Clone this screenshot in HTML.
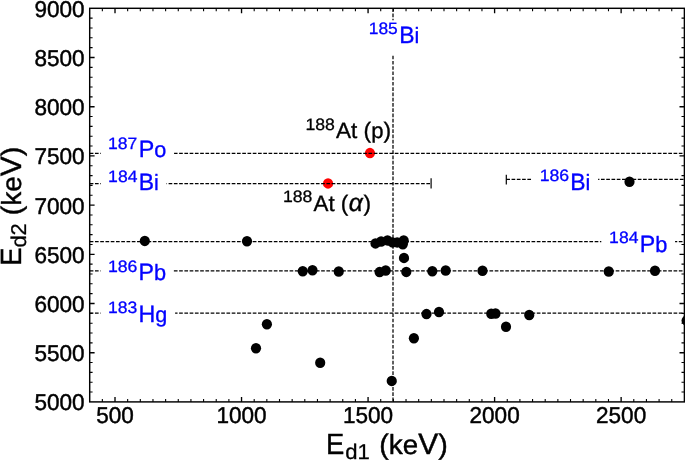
<!DOCTYPE html>
<html><head><meta charset="utf-8"><title>chart</title>
<style>html,body{margin:0;padding:0;background:#fff;}svg{display:block;}text{font-family:"Liberation Sans",sans-serif;stroke-linejoin:round;text-rendering:geometricPrecision;}</style>
</head><body>
<svg width="685" height="460" viewBox="0 0 685 460">
<rect x="0" y="0" width="685" height="460" fill="#fff"/>
<g opacity="0.999">
<g id="red" fill="#ff0000">
<ellipse cx="369.95" cy="153.1" rx="5.1" ry="5.25"/>
<ellipse cx="328.05" cy="183.4" rx="5.1" ry="5.25"/>
</g>
<g id="lines">
<path d="M89.70 153.25H100.90" stroke="#000" stroke-width="1.25" stroke-dasharray="3.68 1.58" fill="none" stroke-dashoffset="0.00"/>
<path d="M174.07 153.25H684.40" stroke="#000" stroke-width="1.25" stroke-dasharray="3.68 1.58" fill="none" stroke-dashoffset="0.21"/>
<path d="M89.70 183.50H100.90" stroke="#000" stroke-width="1.25" stroke-dasharray="3.68 1.58" fill="none" stroke-dashoffset="0.00"/>
<path d="M166.54 183.50H431.10" stroke="#000" stroke-width="1.25" stroke-dasharray="3.68 1.58" fill="none" stroke-dashoffset="3.20"/>
<path d="M506.30 179.25H531.90" stroke="#000" stroke-width="1.25" stroke-dasharray="3.68 1.58" fill="none" stroke-dashoffset="0.00"/>
<path d="M598.14 179.25H684.40" stroke="#000" stroke-width="1.25" stroke-dasharray="3.68 1.58" fill="none" stroke-dashoffset="2.42"/>
<path d="M89.70 241.70H601.30" stroke="#000" stroke-width="1.25" stroke-dasharray="3.68 1.58" fill="none" stroke-dashoffset="0.00"/>
<path d="M675.07 241.70H684.40" stroke="#000" stroke-width="1.25" stroke-dasharray="3.68 1.58" fill="none" stroke-dashoffset="1.51"/>
<path d="M89.70 270.75H100.70" stroke="#000" stroke-width="1.25" stroke-dasharray="3.68 1.58" fill="none" stroke-dashoffset="0.00"/>
<path d="M173.87 270.75H684.40" stroke="#000" stroke-width="1.25" stroke-dasharray="3.68 1.58" fill="none" stroke-dashoffset="0.01"/>
<path d="M89.70 313.00H100.70" stroke="#000" stroke-width="1.25" stroke-dasharray="3.68 1.58" fill="none" stroke-dashoffset="0.00"/>
<path d="M175.11 313.00H684.40" stroke="#000" stroke-width="1.25" stroke-dasharray="3.68 1.58" fill="none" stroke-dashoffset="1.25"/>
<path d="M393.00 8.30V20.30" stroke="#000" stroke-width="1.25" stroke-dasharray="3.68 1.58" fill="none" stroke-dashoffset="0.00"/>
<path d="M393.00 54.90V401.90" stroke="#000" stroke-width="1.25" stroke-dasharray="3.68 1.58" fill="none" stroke-dashoffset="4.52"/>
<path d="M431.1 178.3V188.5M506.3 174.7V184.6" stroke="#000" stroke-width="1.2" fill="none"/>
</g>
<g id="labels">
<text transform="translate(108.10,148.75) scale(1.0669,1)" font-size="16.45" fill="#0000ff" stroke="#0000ff" stroke-width="0.3">187</text>
<text transform="translate(138.70,157.10) scale(0.9866,1)" font-size="22.7" fill="#0000ff" stroke="#0000ff" stroke-width="0.35"><tspan font-size="23.63">P</tspan><tspan font-size="21.91">o</tspan></text>
<text transform="translate(108.09,181.80) scale(1.0706,1)" font-size="16.45" fill="#0000ff" stroke="#0000ff" stroke-width="0.3">184</text>
<text transform="translate(138.70,190.15) scale(0.9685,1)" font-size="22.7" fill="#0000ff" stroke="#0000ff" stroke-width="0.35"><tspan font-size="23.63">B</tspan><tspan font-size="22.20">i</tspan></text>
<text transform="translate(107.89,271.95) scale(1.0765,1)" font-size="16.45" fill="#0000ff" stroke="#0000ff" stroke-width="0.3">186</text>
<text transform="translate(138.50,280.30) scale(0.9809,1)" font-size="22.7" fill="#0000ff" stroke="#0000ff" stroke-width="0.35"><tspan font-size="23.63">P</tspan><tspan font-size="22.20">b</tspan></text>
<text transform="translate(107.90,313.25) scale(1.0659,1)" font-size="16.45" fill="#0000ff" stroke="#0000ff" stroke-width="0.3">183</text>
<text transform="translate(138.50,321.60) scale(0.9852,1)" font-size="22.7" fill="#0000ff" stroke="#0000ff" stroke-width="0.35"><tspan font-size="23.63">H</tspan><tspan font-size="21.91">g</tspan></text>
<text transform="translate(539.69,181.35) scale(1.0765,1)" font-size="16.45" fill="#0000ff" stroke="#0000ff" stroke-width="0.3">186</text>
<text transform="translate(570.30,189.70) scale(0.9685,1)" font-size="22.7" fill="#0000ff" stroke="#0000ff" stroke-width="0.35"><tspan font-size="23.63">B</tspan><tspan font-size="22.20">i</tspan></text>
<text transform="translate(609.09,243.45) scale(1.0706,1)" font-size="16.45" fill="#0000ff" stroke="#0000ff" stroke-width="0.3">184</text>
<text transform="translate(639.70,251.80) scale(0.9809,1)" font-size="22.7" fill="#0000ff" stroke="#0000ff" stroke-width="0.35"><tspan font-size="23.63">P</tspan><tspan font-size="22.20">b</tspan></text>
<text transform="translate(368.71,34.35) scale(1.0600,1)" font-size="16.45" fill="#0000ff" stroke="#0000ff" stroke-width="0.3">185</text>
<text transform="translate(399.30,42.70) scale(0.9685,1)" font-size="22.7" fill="#0000ff" stroke="#0000ff" stroke-width="0.35"><tspan font-size="23.63">B</tspan><tspan font-size="22.20">i</tspan></text>
</g>
<clipPath id="ax"><rect x="89.70" y="8.30" width="594.70" height="393.60"/></clipPath>
<g id="pts" fill="#000" clip-path="url(#ax)">
<ellipse cx="144.8" cy="240.9" rx="5.1" ry="5.25"/>
<ellipse cx="247" cy="241.3" rx="5.1" ry="5.25"/>
<ellipse cx="375.5" cy="243.4" rx="5.1" ry="5.25"/>
<ellipse cx="381.1" cy="241.5" rx="5.1" ry="5.25"/>
<ellipse cx="387.5" cy="240.4" rx="5.1" ry="5.25"/>
<ellipse cx="392.5" cy="242.4" rx="5.1" ry="5.25"/>
<ellipse cx="397.2" cy="242.4" rx="5.1" ry="5.25"/>
<ellipse cx="403.7" cy="240.5" rx="5.1" ry="5.25"/>
<ellipse cx="402.8" cy="244.2" rx="5.1" ry="5.25"/>
<ellipse cx="404" cy="257.9" rx="5.1" ry="5.25"/>
<ellipse cx="302.75" cy="271.25" rx="5.1" ry="5.25"/>
<ellipse cx="312.5" cy="270.25" rx="5.1" ry="5.25"/>
<ellipse cx="338.75" cy="271.5" rx="5.1" ry="5.25"/>
<ellipse cx="379.6" cy="272.1" rx="5.1" ry="5.25"/>
<ellipse cx="385.7" cy="270.5" rx="5.1" ry="5.25"/>
<ellipse cx="406.3" cy="271.9" rx="5.1" ry="5.25"/>
<ellipse cx="432.3" cy="271.2" rx="5.1" ry="5.25"/>
<ellipse cx="445.7" cy="270.5" rx="5.1" ry="5.25"/>
<ellipse cx="482.5" cy="270.75" rx="5.1" ry="5.25"/>
<ellipse cx="608.75" cy="271.5" rx="5.1" ry="5.25"/>
<ellipse cx="655" cy="270.75" rx="5.1" ry="5.25"/>
<ellipse cx="426.5" cy="314.1" rx="5.1" ry="5.25"/>
<ellipse cx="439" cy="312" rx="5.1" ry="5.25"/>
<ellipse cx="491.25" cy="313.75" rx="5.1" ry="5.25"/>
<ellipse cx="495.5" cy="313.5" rx="5.1" ry="5.25"/>
<ellipse cx="529.25" cy="315" rx="5.1" ry="5.25"/>
<ellipse cx="506" cy="326.75" rx="5.1" ry="5.25"/>
<ellipse cx="413.9" cy="338.3" rx="5.1" ry="5.25"/>
<ellipse cx="266.9" cy="324.2" rx="5.1" ry="5.25"/>
<ellipse cx="256.0" cy="348.2" rx="5.1" ry="5.25"/>
<ellipse cx="320.2" cy="362.8" rx="5.1" ry="5.25"/>
<ellipse cx="391.75" cy="380.9" rx="5.1" ry="5.25"/>
<ellipse cx="629.5" cy="181.75" rx="5.1" ry="5.25"/>
<ellipse cx="686.6" cy="320.6" rx="5.1" ry="5.25"/>
</g>
<g id="blabels">
<text transform="translate(305.39,129.90) scale(1.0728,1)" font-size="16.45" fill="#000" stroke="#000" stroke-width="0.3">188</text>
<text transform="translate(336.00,138.25) scale(1.0137,1)" font-size="22.6" fill="#000" stroke="#000" stroke-width="0.35"><tspan font-size="22.26">At </tspan>(<tspan font-size="21.81">p</tspan>)</text>
<text transform="translate(282.89,202.30) scale(1.0728,1)" font-size="16.45" fill="#000" stroke="#000" stroke-width="0.3">188</text>
<text transform="translate(313.50,210.80) scale(1.0052,1)" font-size="22.6" fill="#000" stroke="#000" stroke-width="0.35"><tspan font-size="22.26">At </tspan>(<tspan font-size="24.63" font-style="italic" dx="0.43">α</tspan><tspan font-size="22.60" dx="0.43">)</tspan></text>
</g>
<g id="frame" stroke="#000" fill="none">
<rect x="89.7" y="8.3" width="594.70" height="393.60" stroke-width="1.45"/>
<path d="M115.01 401.9v-4.9M115.01 8.3v4.9M241.54 401.9v-4.9M241.54 8.3v4.9M368.07 401.9v-4.9M368.07 8.3v4.9M494.60 401.9v-4.9M494.60 8.3v4.9M621.13 401.9v-4.9M621.13 8.3v4.9M89.7 352.70h4.9M684.4 352.70h-4.9M89.7 303.50h4.9M684.4 303.50h-4.9M89.7 254.30h4.9M684.4 254.30h-4.9M89.7 205.10h4.9M684.4 205.10h-4.9M89.7 155.90h4.9M684.4 155.90h-4.9M89.7 106.70h4.9M684.4 106.70h-4.9M89.7 57.50h4.9M684.4 57.50h-4.9" stroke-width="1.35"/>
<path d="M102.35 401.9v-2.9M102.35 8.3v2.9M127.66 401.9v-2.9M127.66 8.3v2.9M140.31 401.9v-2.9M140.31 8.3v2.9M152.97 401.9v-2.9M152.97 8.3v2.9M165.62 401.9v-2.9M165.62 8.3v2.9M178.27 401.9v-2.9M178.27 8.3v2.9M190.93 401.9v-2.9M190.93 8.3v2.9M203.58 401.9v-2.9M203.58 8.3v2.9M216.23 401.9v-2.9M216.23 8.3v2.9M228.89 401.9v-2.9M228.89 8.3v2.9M254.19 401.9v-2.9M254.19 8.3v2.9M266.84 401.9v-2.9M266.84 8.3v2.9M279.50 401.9v-2.9M279.50 8.3v2.9M292.15 401.9v-2.9M292.15 8.3v2.9M304.80 401.9v-2.9M304.80 8.3v2.9M317.46 401.9v-2.9M317.46 8.3v2.9M330.11 401.9v-2.9M330.11 8.3v2.9M342.76 401.9v-2.9M342.76 8.3v2.9M355.42 401.9v-2.9M355.42 8.3v2.9M380.72 401.9v-2.9M380.72 8.3v2.9M393.38 401.9v-2.9M393.38 8.3v2.9M406.03 401.9v-2.9M406.03 8.3v2.9M418.68 401.9v-2.9M418.68 8.3v2.9M431.34 401.9v-2.9M431.34 8.3v2.9M443.99 401.9v-2.9M443.99 8.3v2.9M456.64 401.9v-2.9M456.64 8.3v2.9M469.30 401.9v-2.9M469.30 8.3v2.9M481.95 401.9v-2.9M481.95 8.3v2.9M507.26 401.9v-2.9M507.26 8.3v2.9M519.91 401.9v-2.9M519.91 8.3v2.9M532.56 401.9v-2.9M532.56 8.3v2.9M545.21 401.9v-2.9M545.21 8.3v2.9M557.87 401.9v-2.9M557.87 8.3v2.9M570.52 401.9v-2.9M570.52 8.3v2.9M583.17 401.9v-2.9M583.17 8.3v2.9M595.83 401.9v-2.9M595.83 8.3v2.9M608.48 401.9v-2.9M608.48 8.3v2.9M633.79 401.9v-2.9M633.79 8.3v2.9M646.44 401.9v-2.9M646.44 8.3v2.9M659.09 401.9v-2.9M659.09 8.3v2.9M671.75 401.9v-2.9M671.75 8.3v2.9M89.7 392.06h2.9M684.4 392.06h-2.9M89.7 382.22h2.9M684.4 382.22h-2.9M89.7 372.38h2.9M684.4 372.38h-2.9M89.7 362.54h2.9M684.4 362.54h-2.9M89.7 342.86h2.9M684.4 342.86h-2.9M89.7 333.02h2.9M684.4 333.02h-2.9M89.7 323.18h2.9M684.4 323.18h-2.9M89.7 313.34h2.9M684.4 313.34h-2.9M89.7 293.66h2.9M684.4 293.66h-2.9M89.7 283.82h2.9M684.4 283.82h-2.9M89.7 273.98h2.9M684.4 273.98h-2.9M89.7 264.14h2.9M684.4 264.14h-2.9M89.7 244.46h2.9M684.4 244.46h-2.9M89.7 234.62h2.9M684.4 234.62h-2.9M89.7 224.78h2.9M684.4 224.78h-2.9M89.7 214.94h2.9M684.4 214.94h-2.9M89.7 195.26h2.9M684.4 195.26h-2.9M89.7 185.42h2.9M684.4 185.42h-2.9M89.7 175.58h2.9M684.4 175.58h-2.9M89.7 165.74h2.9M684.4 165.74h-2.9M89.7 146.06h2.9M684.4 146.06h-2.9M89.7 136.22h2.9M684.4 136.22h-2.9M89.7 126.38h2.9M684.4 126.38h-2.9M89.7 116.54h2.9M684.4 116.54h-2.9M89.7 96.86h2.9M684.4 96.86h-2.9M89.7 87.02h2.9M684.4 87.02h-2.9M89.7 77.18h2.9M684.4 77.18h-2.9M89.7 67.34h2.9M684.4 67.34h-2.9M89.7 47.66h2.9M684.4 47.66h-2.9M89.7 37.82h2.9M684.4 37.82h-2.9M89.7 27.98h2.9M684.4 27.98h-2.9M89.7 18.14h2.9M684.4 18.14h-2.9" stroke-width="1.1"/>
</g>
<g id="ticklabels">
<text transform="translate(115.01,423.00) scale(0.985,1)" font-size="22.9" fill="#000" stroke="#000" stroke-width="0.45" text-anchor="middle">500</text>
<text transform="translate(241.54,423.00) scale(0.985,1)" font-size="22.9" fill="#000" stroke="#000" stroke-width="0.45" text-anchor="middle">1000</text>
<text transform="translate(368.07,423.00) scale(0.985,1)" font-size="22.9" fill="#000" stroke="#000" stroke-width="0.45" text-anchor="middle">1500</text>
<text transform="translate(494.60,423.00) scale(0.985,1)" font-size="22.9" fill="#000" stroke="#000" stroke-width="0.45" text-anchor="middle">2000</text>
<text transform="translate(621.13,423.00) scale(0.985,1)" font-size="22.9" fill="#000" stroke="#000" stroke-width="0.45" text-anchor="middle">2500</text>
<text transform="translate(84.60,410.45) scale(0.985,1)" font-size="22.9" fill="#000" stroke="#000" stroke-width="0.45" text-anchor="end">5000</text>
<text transform="translate(84.60,361.25) scale(0.985,1)" font-size="22.9" fill="#000" stroke="#000" stroke-width="0.45" text-anchor="end">5500</text>
<text transform="translate(84.60,312.05) scale(0.985,1)" font-size="22.9" fill="#000" stroke="#000" stroke-width="0.45" text-anchor="end">6000</text>
<text transform="translate(84.60,262.85) scale(0.985,1)" font-size="22.9" fill="#000" stroke="#000" stroke-width="0.45" text-anchor="end">6500</text>
<text transform="translate(84.60,213.65) scale(0.985,1)" font-size="22.9" fill="#000" stroke="#000" stroke-width="0.45" text-anchor="end">7000</text>
<text transform="translate(84.60,164.45) scale(0.985,1)" font-size="22.9" fill="#000" stroke="#000" stroke-width="0.45" text-anchor="end">7500</text>
<text transform="translate(84.60,115.25) scale(0.985,1)" font-size="22.9" fill="#000" stroke="#000" stroke-width="0.45" text-anchor="end">8000</text>
<text transform="translate(84.60,66.05) scale(0.985,1)" font-size="22.9" fill="#000" stroke="#000" stroke-width="0.45" text-anchor="end">8500</text>
<text transform="translate(84.60,16.85) scale(0.985,1)" font-size="22.9" fill="#000" stroke="#000" stroke-width="0.45" text-anchor="end">9000</text>
</g>
<g id="axlabels">
<g>
<text transform="translate(326.10,453.50) scale(0.9385,1)" font-size="28.1" fill="#000" stroke="#000" stroke-width="0.4"><tspan font-size="29.25">E</tspan></text>
<text transform="translate(345.28,458.70) scale(1.0354,1)" font-size="21.35" fill="#000" stroke="#000" stroke-width="0.3">d1</text>
<text transform="translate(379.30,453.50) scale(1.0163,1)" font-size="28.2" fill="#000" stroke="#000" stroke-width="0.45">(<tspan font-size="27.58">k</tspan><tspan font-size="27.21">e</tspan><tspan font-size="29.36">V</tspan>)</text>
</g>
<g>
<text transform="translate(20.70,265.80) rotate(-90) scale(0.9385,1)" font-size="28.1" fill="#000" stroke="#000" stroke-width="0.4"><tspan font-size="29.25">E</tspan></text>
<text transform="translate(25.70,247.61) rotate(-90) scale(1.0297,1)" font-size="21.35" fill="#000" stroke="#000" stroke-width="0.3">d2</text>
<text transform="translate(20.70,215.20) rotate(-90) scale(1.0163,1)" font-size="28.2" fill="#000" stroke="#000" stroke-width="0.45">(<tspan font-size="27.58">k</tspan><tspan font-size="27.21">e</tspan><tspan font-size="29.36">V</tspan>)</text>
</g>
</g>
</g>
</svg></body></html>
